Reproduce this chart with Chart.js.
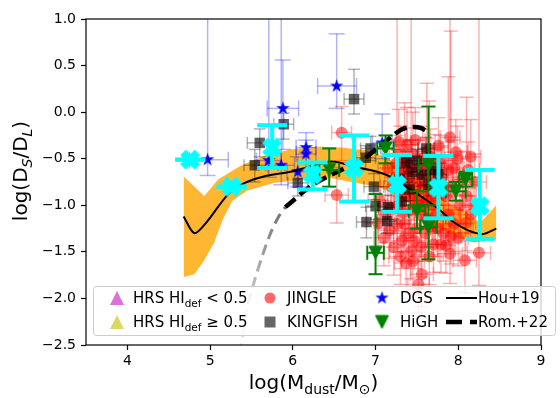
<!DOCTYPE html>
<html><head><meta charset="utf-8">
<script src="https://cdn.jsdelivr.net/npm/chart.js@4.4.0/dist/chart.umd.min.js"></script>
<style>html,body{margin:0;padding:0;background:#fff;}canvas{display:block;}</style>
</head><body>
<canvas id="c" width="560" height="398"></canvas>
<script>
// ---------- axis ticks ----------
const xTicks = [4, 5, 6, 7, 8, 9];
const yTicks = [-2.5, -2.0, -1.5, -1.0, -0.5, 0.0, 0.5, 1.0];

// ---------- Hou+19 curve and its uncertainty band ----------
const houX = [4.68, 4.81, 4.95, 5.22, 5.42, 5.65, 5.97, 6.27, 6.47, 6.77, 7.12, 7.39, 7.64, 7.80, 7.96, 8.12, 8.29, 8.46];
const houY = [-1.12, -1.30, -1.19, -0.88, -0.76, -0.69, -0.64, -0.57, -0.53, -0.59, -0.67, -0.81, -0.96, -1.07, -1.19, -1.27, -1.31, -1.25];
const bandUpX = [4.68, 4.93, 5.10, 5.38, 5.65, 5.97, 6.30, 6.59, 6.88, 7.12, 7.41, 7.70, 7.91, 8.08, 8.26, 8.46];
const bandUpY = [-0.69, -0.90, -0.72, -0.57, -0.47, -0.40, -0.37, -0.38, -0.41, -0.48, -0.65, -0.86, -0.99, -1.06, -1.19, -1.00];
const bandLoX = [4.68, 4.81, 4.93, 5.05, 5.16, 5.27, 5.45, 5.77, 6.16, 6.47, 6.82, 7.06, 7.29, 7.53, 7.76, 7.96, 8.19, 8.46];
const bandLoY = [-1.77, -1.74, -1.59, -1.40, -1.14, -0.95, -0.84, -0.76, -0.72, -0.71, -0.77, -0.81, -0.91, -1.06, -1.24, -1.34, -1.40, -1.37];

// ---------- Rom.+22 curve (grey: extrapolated part, black: valid part) ----------
const romGreyX = [5.36, 5.45, 5.54, 5.64, 5.74, 5.83, 5.91];
const romGreyY = [-2.60, -2.10, -1.80, -1.52, -1.28, -1.12, -1.02];
const romX = [5.91, 6.03, 6.12, 6.24, 6.36, 6.47, 6.66, 6.86, 7.03, 7.21, 7.33, 7.45, 7.55, 7.61];
const romY = [-1.02, -0.93, -0.86, -0.78, -0.72, -0.67, -0.59, -0.50, -0.38, -0.25, -0.18, -0.16, -0.17, -0.20];

// ---------- JINGLE ----------
const jingleX = [6.59, 6.53, 7.90, 7.97, 8.15, 7.76, 7.72, 7.03, 7.17, 7.32, 7.43, 7.56, 7.79, 7.91, 8.08, 8.25, 7.85, 7.68, 8.09,
  7.25, 7.32, 7.40, 7.45, 7.52, 7.58, 7.62, 7.35, 7.28, 7.42, 7.55, 7.70, 7.80, 7.85, 7.88, 7.95, 8.02, 8.10, 7.20, 7.15,
  7.05, 7.12, 7.65, 7.48, 7.38, 7.60, 7.50, 7.35, 7.75, 7.22, 7.45, 7.65, 7.30, 7.10, 7.95, 8.15, 8.20, 7.62, 7.70,
  7.30, 7.36, 7.42, 7.47, 7.53, 7.57, 7.63, 7.67, 7.72, 7.78, 7.83, 7.88, 7.93, 7.99, 8.05, 8.12, 8.18, 7.26, 7.33,
  7.40, 7.47, 7.55, 7.62, 7.70, 7.82, 7.90, 8.00, 7.18, 7.24, 7.38, 7.44, 7.50, 7.58, 7.66, 7.74, 7.37, 7.52, 7.28];
const jingleY = [-0.22, -0.89, -0.27, -0.43, -0.48, -0.36, -0.54, -1.19, -1.27, -1.38, -1.49, -1.74, -1.42, -1.33, -1.59, -1.51, -1.43, -1.23, -1.19,
  -0.55, -0.65, -0.70, -0.45, -0.60, -0.80, -0.95, -0.90, -1.00, -1.05, -1.10, -1.00, -0.70, -0.90, -1.10, -0.60, -1.00, -0.90, -0.80, -0.60,
  -0.95, -1.10, -0.40, -0.30, -0.35, -1.30, -1.25, -1.20, -1.25, -1.45, -1.60, -1.55, -1.55, -1.35, -1.20, -1.10, -0.75, -0.58, -0.75,
  -0.45, -0.58, -0.78, -0.88, -0.72, -0.50, -0.68, -0.88, -1.12, -0.55, -0.80, -0.62, -0.80, -0.50, -0.72, -0.62, -1.00, -1.20, -1.08,
  -1.30, -1.38, -1.45, -1.15, -1.42, -1.30, -1.52, -1.35, -1.02, -0.70, -0.52, -0.60, -0.95, -0.98, -0.48, -0.62, -1.62, -1.85, -0.32];
const jingleErrUp = [0.28, 0.30, 1.60, 0.35, 0.40, 0.30, 0.30, 0.25, 0.28, 0.30, 2.60, 0.30, 0.30, 2.20, 0.30, 2.60, 0.28, 0.30, 0.30,
  0.30, 0.25, 0.35, 0.45, 0.30, 0.30, 1.26, 1.00, 0.30, 0.25, 0.30, 0.28, 0.32, 0.30, 1.48, 0.30, 0.30, 1.06, 0.25, 0.30,
  0.30, 0.30, 0.52, 0.35, 0.40, 0.30, 0.30, 0.28, 0.32, 0.30, 0.30, 0.30, 0.25, 0.30, 0.30, 0.28, 0.30, 0.30, 0.25,
  0.30, 0.28, 0.30, 0.32, 0.30, 0.35, 0.30, 0.28, 0.30, 0.30, 0.32, 0.30, 0.28, 0.35, 0.30, 0.30, 0.30, 2.50, 0.28,
  0.30, 0.30, 0.32, 0.28, 0.30, 0.30, 0.30, 0.30, 0.28, 0.30, 0.35, 0.30, 0.28, 0.30, 0.30, 0.28, 0.30, 0.32, 0.35];
const jingleErrDn = [0.30, 0.30, 0.25, 0.30, 0.30, 0.28, 0.30, 0.25, 0.30, 0.30, 0.30, 0.35, 0.30, 0.30, 0.35, 0.35, 0.30, 0.30, 0.30,
  0.28, 0.30, 0.30, 0.30, 0.28, 0.30, 0.30, 0.30, 0.28, 0.30, 0.30, 0.28, 0.30, 0.30, 0.30, 0.28, 0.30, 0.30, 0.28, 0.30,
  0.30, 0.30, 0.28, 0.30, 0.28, 0.30, 0.30, 0.30, 0.30, 0.30, 0.35, 0.30, 0.30, 0.30, 0.30, 0.28, 0.30, 0.28, 0.30,
  0.28, 0.30, 0.30, 0.28, 0.30, 0.30, 0.28, 0.30, 0.30, 0.28, 0.30, 0.30, 0.28, 0.30, 0.30, 0.28, 0.30, 0.30, 0.28,
  0.30, 0.30, 0.32, 0.30, 0.30, 0.30, 0.32, 0.30, 0.28, 0.30, 0.28, 0.30, 0.30, 0.28, 0.30, 0.30, 0.32, 0.30, 0.28];
const jingleErrX = [0.12, 0.14, 0.12, 0.14, 0.12, 0.12, 0.14, 0.14, 0.14, 0.14, 0.12, 0.14, 0.14, 0.12, 0.14, 0.14, 0.12, 0.14, 0.12,
  0.14, 0.12, 0.14, 0.12, 0.14, 0.12, 0.14, 0.12, 0.14, 0.12, 0.14, 0.12, 0.14, 0.12, 0.14, 0.12, 0.14, 0.12, 0.14, 0.12,
  0.14, 0.12, 0.14, 0.12, 0.14, 0.12, 0.14, 0.12, 0.14, 0.12, 0.14, 0.12, 0.14, 0.12, 0.14, 0.12, 0.14, 0.12, 0.14,
  0.13, 0.15, 0.12, 0.14, 0.13, 0.15, 0.12, 0.14, 0.13, 0.15, 0.12, 0.14, 0.13, 0.15, 0.12, 0.14, 0.13, 0.15, 0.12,
  0.14, 0.13, 0.15, 0.12, 0.14, 0.13, 0.15, 0.12, 0.14, 0.13, 0.15, 0.12, 0.14, 0.13, 0.15, 0.12, 0.14, 0.13, 0.15];

// ---------- KINGFISH ----------
const kingX = [6.74, 5.89, 5.60, 5.54, 6.06, 6.94, 6.88, 6.98, 7.00, 6.89, 7.15, 7.14, 7.37, 7.44, 7.56, 7.61, 7.64, 7.50, 7.41, 7.70, 7.29, 7.32, 7.76];
const kingY = [0.14, -0.13, -0.33, -0.57, -0.76, -0.39, -0.49, -0.80, -1.01, -1.18, -1.02, -1.17, -0.54, -0.64, -0.67, -0.39, -0.78, -0.52, -0.83, -0.62, -0.72, -0.96, -0.67];
const kingErrUp = [0.32, 0.12, 0.15, 0.17, 0.14, 0.13, 0.13, 0.14, 0.14, 0.16, 0.13, 0.13, 0.12, 0.12, 0.12, 0.12, 0.12, 0.12, 0.12, 0.12, 0.12, 0.12, 0.12];
const kingErrDn = [0.16, 0.16, 0.15, 0.18, 0.14, 0.13, 0.13, 0.14, 0.14, 0.17, 0.13, 0.13, 0.12, 0.12, 0.12, 0.12, 0.12, 0.12, 0.12, 0.12, 0.12, 0.12, 0.12];
const kingErrX = [0.12, 0.12, 0.15, 0.13, 0.12, 0.12, 0.12, 0.12, 0.12, 0.12, 0.12, 0.12, 0.10, 0.10, 0.10, 0.10, 0.10, 0.10, 0.10, 0.10, 0.10, 0.10, 0.10];

// ---------- DGS ----------
const dgsX = [4.97, 5.88, 6.53, 5.71, 5.86, 6.06, 6.16, 6.16, 7.08];
const dgsY = [-0.51, 0.04, 0.28, -0.52, -0.57, -0.64, -0.38, -0.45, -0.33];
const dgsYLow = [-0.68, -0.40, 0.04, -0.70, -0.78, -0.80, -0.55, -0.62, -0.50];
const dgsYHigh = [1.50, 0.56, 0.84, 1.50, 1.50, -0.48, -0.22, -0.30, -0.02];
const dgsXLow = [4.75, 5.69, 6.30, 5.56, 5.70, 5.93, 6.04, 6.04, 6.96];
const dgsXHigh = [5.22, 6.07, 6.77, 5.86, 6.02, 6.19, 6.28, 6.28, 7.20];

// ---------- HiGH ----------
const highX = [6.44, 7.12, 7.00, 7.64, 7.64, 7.50, 7.97, 8.09];
const highY = [-0.62, -0.39, -1.51, -0.57, -1.23, -1.06, -0.85, -0.72];
const highYLow = [-0.80, -0.55, -1.74, -0.85, -1.58, -1.25, -0.95, -0.80];
const highYHigh = [-0.39, -0.25, -0.88, 0.06, -1.00, -0.85, -0.75, -0.64];
const highErrX = [0.12, 0.10, 0.10, 0.12, 0.10, 0.10, 0.12, 0.08];

// ---------- binned medians (cyan) ----------
const binX = [4.76, 5.26, 5.75, 6.24, 6.74, 7.26, 7.76, 8.26];
const binY = [-0.51, -0.80, -0.38, -0.67, -0.60, -0.78, -0.81, -1.01];
const binLow = [-0.51, -0.80, -0.60, -0.83, -0.96, -1.07, -1.14, -1.36];
const binHigh = [-0.51, -0.80, -0.14, -0.54, -0.25, -0.46, -0.47, -0.62];

// ---------- legend labels ----------
const legendRows = [
  [{t:'HRS HI', sub:'def', after:' < 0.5'}, {t:'JINGLE'}, {t:'DGS'}, {t:'Hou+19'}],
  [{t:'HRS HI', sub:'def', after:' \u2265 0.5'}, {t:'KINGFISH'}, {t:'HiGH'}, {t:'Rom.+22'}]
];

const FONT = '"DejaVu Sans"';
Chart.defaults.font.family = 'DejaVu Sans';
Chart.defaults.color = '#000';

// ---------- marker images ----------
function mk(size, draw) {
  const c = document.createElement('canvas');
  c.width = size; c.height = size;
  const g = c.getContext('2d');
  g.translate(size / 2, size / 2);
  draw(g);
  return c;
}
function starPath(g, R) {
  const r = R * 0.381966;
  g.beginPath();
  for (let i = 0; i < 10; i++) {
    const a = -Math.PI / 2 + i * Math.PI / 5;
    const rr = i % 2 ? r : R;
    g.lineTo(rr * Math.cos(a), rr * Math.sin(a));
  }
  g.closePath();
}
function triPath(g, ms, down) {
  const h = ms / 2;
  g.beginPath();
  if (down) { g.moveTo(0, h); g.lineTo(-h, -h); g.lineTo(h, -h); }
  else { g.moveTo(0, -h); g.lineTo(-h, h); g.lineTo(h, h); }
  g.closePath();
}
function xPath(g, ms) {
  const pts = [[-1,-3],[1,-3],[1,-1],[3,-1],[3,1],[1,1],[1,3],[-1,3],[-1,1],[-3,1],[-3,-1],[-1,-1]];
  const c = Math.SQRT1_2;
  g.beginPath();
  pts.forEach(([px, py]) => {
    const x = (px * c - py * c) / 6 * ms, y = (px * c + py * c) / 6 * ms;
    g.lineTo(x, y);
  });
  g.closePath();
}
const starImg = mk(17, g => { starPath(g, 7); g.fillStyle = '#0000ff'; g.fill(); });
const triDownImg = mk(17, g => { triPath(g, 13, true); g.fillStyle = '#008000'; g.fill(); g.strokeStyle = '#008000'; g.lineWidth = 1; g.stroke(); });
const xImg = mk(24, g => { xPath(g, 19); g.fillStyle = '#00ffff'; g.fill(); g.strokeStyle = '#00ffff'; g.lineWidth = 1.5; g.stroke(); });

// ---------- helpers building library datasets from the arrays ----------
const pts = (xs, ys) => xs.map((x, i) => ({x, y: ys[i]}));
function vErr(xs, lo, hi) {
  const d = [];
  xs.forEach((x, i) => { d.push({x, y: lo[i]}, {x, y: hi[i]}, {x, y: null}); });
  return d;
}
function hErr(lo, hi, ys) {
  const d = [];
  ys.forEach((y, i) => { d.push({x: lo[i], y}, {x: hi[i], y}, {x: hi[i], y: null}); });
  return d;
}
function errDS(data, color, width, cap, rot, order) {
  return {data, showLine: true, borderColor: color, borderWidth: width, pointStyle: 'line',
    pointRadius: cap, pointRotation: rot, pointBorderColor: color, pointBorderWidth: width,
    pointBackgroundColor: color, order, clip: 0, spanGaps: false,
    segment: {borderColor: () => color}};
}
function markDS(data, style, radius, color, order) {
  return {data, showLine: false, pointStyle: style, pointRadius: radius, pointBackgroundColor: color,
    pointBorderWidth: 0, pointBorderColor: 'rgba(0,0,0,0)', order, clip: 0};
}
function lineDS(xs, ys, color, width, dash, order, tension) {
  return {data: pts(xs, ys), showLine: true, borderColor: color, borderWidth: width, borderDash: dash,
    pointRadius: 0, order, clip: 0, tension: tension, borderCapStyle: 'butt'};
}

const jLo = jingleY.map((y, i) => y - jingleErrDn[i]);
const jHi = jingleY.map((y, i) => y + jingleErrUp[i]);
const jXlo = jingleX.map((x, i) => x - jingleErrX[i]);
const jXhi = jingleX.map((x, i) => x + jingleErrX[i]);
const kLo = kingY.map((y, i) => y - kingErrDn[i]);
const kHi = kingY.map((y, i) => y + kingErrUp[i]);
const kXlo = kingX.map((x, i) => x - kingErrX[i]);
const kXhi = kingX.map((x, i) => x + kingErrX[i]);
const hXlo = highX.map((x, i) => x - highErrX[i]);
const hXhi = highX.map((x, i) => x + highErrX[i]);

const RED_E = 'rgba(255,0,0,0.3)';
const GRY_E = 'rgba(0,0,0,0.3)';
const BLU_E = 'rgba(0,0,255,0.3)';

const datasets = [
  {data: pts(bandUpX, bandUpY), showLine: true, borderColor: 'rgba(0,0,0,0)', borderWidth: 1, pointRadius: 0,
   fill: '+1', backgroundColor: 'rgba(255,165,0,0.8)', order: 20, clip: 0},
  {data: pts(bandLoX, bandLoY), showLine: true, borderColor: 'rgba(0,0,0,0)', borderWidth: 1, pointRadius: 0,
   fill: false, order: 21, clip: 0},
  errDS(vErr(jingleX, jLo, jHi), RED_E, 1.5, 7, 0, 19),
  errDS(hErr(jXlo, jXhi, jingleY), RED_E, 1.5, 7, 90, 19),
  markDS(pts(jingleX, jingleY), 'circle', 6, 'rgba(255,0,0,0.5)', 18),
  errDS(vErr(kingX, kLo, kHi), GRY_E, 1.5, 6, 0, 17),
  errDS(hErr(kXlo, kXhi, kingY), GRY_E, 1.5, 6, 90, 17),
  markDS(pts(kingX, kingY), 'rect', 7.4, 'rgba(0,0,0,0.62)', 16),
  errDS(vErr(dgsX, dgsYLow, dgsYHigh), BLU_E, 1.5, 8, 0, 15),
  errDS(hErr(dgsXLow, dgsXHigh, dgsY), BLU_E, 1.5, 8, 90, 15),
  markDS(pts(dgsX, dgsY), starImg, 7, '#0000ff', 14),
  lineDS(houX, houY, '#000', 2, [], 10, 0.3),
  Object.assign(lineDS(romGreyX, romGreyY, 'rgba(128,128,128,0.8)', 3, [11, 6], 9, 0.3), {
    borderColor: (c) => {
      const ch = c.chart; if (!ch.chartArea) return 'rgba(128,128,128,0.8)';
      const ys = ch.scales.y;
      const gr = ch.ctx.createLinearGradient(0, ys.getPixelForValue(-1.1), 0, ys.getPixelForValue(-2.5));
      gr.addColorStop(0, 'rgba(110,110,110,0.95)');
      gr.addColorStop(1, 'rgba(180,180,180,0.35)');
      return gr;
    }}),
  lineDS(romX, romY, '#000', 4.5, [13, 6], 8, 0.3),
  errDS(vErr(highX, highYLow, highYHigh), '#008000', 2, 7, 0, 7),
  errDS(hErr(hXlo, hXhi, highY), '#008000', 2, 7, 90, 7),
  markDS(pts(highX, highY), triDownImg, 7, '#008000', 6),
  errDS(vErr(binX, binLow, binHigh), '#00ffff', 4, 15, 0, 2),
  markDS(pts(binX, binY), xImg, 10, '#00ffff', 1)
];

function drawParts(ctx, parts, x, y) {
  let cx = x;
  parts.forEach(p => {
    ctx.font = (p.it ? 'italic ' : '') + p.s + 'px ' + FONT;
    ctx.fillText(p.t, cx, y + (p.dy || 0));
    cx += ctx.measureText(p.t).width;
  });
  return cx;
}
function measureParts(ctx, parts) {
  let w = 0;
  parts.forEach(p => { ctx.font = (p.it ? 'italic ' : '') + p.s + 'px ' + FONT; w += ctx.measureText(p.t).width; });
  return w;
}
const decor = {
  id: 'decor',
  afterDatasetsDraw(chart) {
    const ctx = chart.ctx, a = chart.chartArea;
    ctx.save();
    ctx.strokeStyle = '#000'; ctx.lineWidth = 1.2;
    ctx.strokeRect(a.left, a.top, a.right - a.left, a.bottom - a.top);
    ctx.fillStyle = '#000'; ctx.textBaseline = 'alphabetic'; ctx.textAlign = 'left';
    const xt = [{t:'log(M', s:20}, {t:'dust', s:14, dy:4.5}, {t:'/M', s:20}, {t:'\u2299', s:14, dy:4.5}, {t:')', s:20}];
    const wx = measureParts(ctx, xt);
    drawParts(ctx, xt, (a.left + a.right) / 2 - wx / 2, 389);
    const yt = [{t:'log(D', s:20}, {t:'S', s:14, dy:4.5, it:true}, {t:'/D', s:20}, {t:'L', s:14, dy:4.5, it:true}, {t:')', s:20}];
    const wy = measureParts(ctx, yt);
    ctx.save(); ctx.translate(27, 171); ctx.rotate(-Math.PI / 2);
    drawParts(ctx, yt, -wy / 2, 0);
    ctx.restore();
    ctx.beginPath();
    ctx.roundRect(93.5, 286.5, 462, 49, 3);
    ctx.fillStyle = 'rgba(255,255,255,0.8)'; ctx.fill();
    ctx.strokeStyle = '#cccccc'; ctx.lineWidth = 1; ctx.stroke();
    const rowY = [298, 322];
    ctx.save(); ctx.translate(117, rowY[0]); triPath(ctx, 14, false); ctx.fillStyle = 'rgba(204,51,204,0.7)'; ctx.fill(); ctx.restore();
    ctx.save(); ctx.translate(117, rowY[1]); triPath(ctx, 14, false); ctx.fillStyle = 'rgba(191,191,0,0.6)'; ctx.fill(); ctx.restore();
    ctx.beginPath(); ctx.arc(270, rowY[0], 5.5, 0, Math.PI * 2); ctx.fillStyle = 'rgba(255,0,0,0.6)'; ctx.fill();
    ctx.fillStyle = 'rgba(0,0,0,0.6)'; ctx.fillRect(264.5, rowY[1] - 5.5, 11, 11);
    ctx.drawImage(starImg, 382 - starImg.width / 2, rowY[0] - starImg.height / 2);
    ctx.drawImage(triDownImg, 382 - triDownImg.width / 2, rowY[1] - triDownImg.height / 2);
    ctx.strokeStyle = '#000'; ctx.lineWidth = 2; ctx.setLineDash([]);
    ctx.beginPath(); ctx.moveTo(446, rowY[0]); ctx.lineTo(477, rowY[0]); ctx.stroke();
    ctx.lineWidth = 4.5; ctx.setLineDash([16, 8]);
    ctx.beginPath(); ctx.moveTo(446, rowY[1]); ctx.lineTo(477, rowY[1]); ctx.stroke();
    ctx.setLineDash([]);
    ctx.fillStyle = '#000';
    const colX = [133, 287, 400, 478];
    legendRows.forEach((row, r) => {
      row.forEach((it, c) => {
        const parts = [{t: it.t, s: 15}];
        if (it.sub) parts.push({t: it.sub, s: 10.5, dy: 3.5});
        if (it.after) parts.push({t: it.after, s: 15});
        drawParts(ctx, parts, colX[c], rowY[r] + 5);
      });
    });
    ctx.restore();
  }
};

const fmt = v => v.toFixed(1).replace('-', '\u2212');
new Chart(document.getElementById('c'), {
  type: 'scatter',
  data: {datasets},
  options: {
    responsive: false, animation: false, devicePixelRatio: 1, events: [],
    layout: {padding: {top: 10, right: 4, left: 0, bottom: 0}},
    plugins: {legend: {display: false}, tooltip: {enabled: false}},
    scales: {
      x: {type: 'linear', min: 3.5, max: 9,
        afterBuildTicks: s => { s.ticks = xTicks.map(v => ({value: v})); },
        afterFit: s => { s.height = 53; s.paddingLeft = 0; s.paddingRight = 0; },
        ticks: {color: '#000', font: {size: 14}, padding: 3, maxRotation: 0, autoSkip: false, callback: v => String(v)},
        grid: {drawOnChartArea: false, drawTicks: true, tickLength: 5, tickColor: '#000', tickWidth: 1.2, color: '#000'},
        border: {display: false}},
      y: {type: 'linear', min: -2.5, max: 1.0,
        afterBuildTicks: s => { s.ticks = yTicks.map(v => ({value: v})); },
        afterFit: s => { s.width = 86; s.paddingTop = 0; s.paddingBottom = 0; },
        ticks: {color: '#000', font: {size: 14}, padding: 5, autoSkip: false, callback: v => fmt(v)},
        grid: {drawOnChartArea: false, drawTicks: true, tickLength: 5, tickColor: '#000', tickWidth: 1.2, color: '#000'},
        border: {display: false}}
    }
  },
  plugins: [decor]
});
</script>
</body></html>
